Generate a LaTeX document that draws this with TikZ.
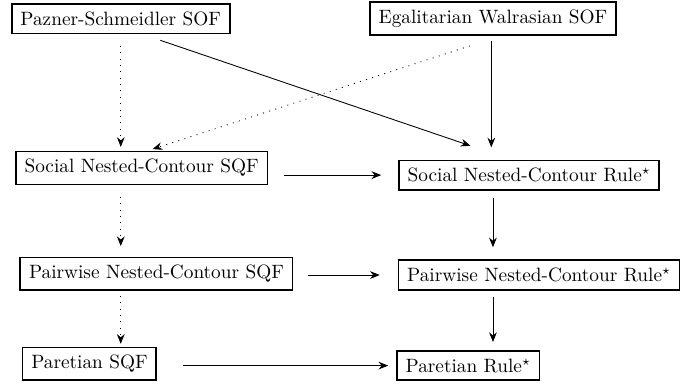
\documentclass[tikz,border=0pt]{standalone}
\usetikzlibrary{arrows.meta}
\tikzset{
  box/.style={draw, line width=0.9pt, inner xsep=4.5pt, inner ysep=4pt},
  imp/.style={-{Stealth[length=5pt,width=4pt]}, line width=0.45pt, shorten <=4pt, shorten >=6pt},
  weak/.style={imp, dash pattern=on 0.5pt off 2.8pt},
}
\begin{document}
\begin{tikzpicture}
\useasboundingbox (0,0) rectangle (12.46,6.98);
% top row: the two SOFs
\node[box] (ps) at (2.20,6.64) {Pazner-Schmeidler SOF};
\node[box] (ew) at (8.98,6.64) {Egalitarian Walrasian SOF};

% left column: SQFs
\node[box] (snsqf) at (2.58,3.92) {Social Nested-Contour SQF};
\node[box] (pwsqf) at (2.85,1.99) {Pairwise Nested-Contour SQF};
\node[box] (psqf) at (1.63,0.35) {Paretian SQF};

% right column: rules
\node[box] (snrule) at (9.64,3.79) {Social Nested-Contour Rule$^\star$};
\node[box] (pwrule) at (9.82,1.97) {Pairwise Nested-Contour Rule$^\star$};
\node[box] (prule) at (8.53,0.32) {Paretian Rule$^\star$};

% dotted implications
\draw[weak, shorten <=6pt, shorten >=2pt] (ps.south) -- (ps.south |- snsqf.north);
\draw[weak, shorten <=6pt, shorten >=5.5pt] (ps.south |- snsqf.south) -- (ps.south |- pwsqf.north);
\draw[weak, shorten <=2.5pt, shorten >=1.5pt] (ps.south |- pwsqf.south) -- (ps.south |- psqf.north);
\draw[weak, shorten <=0pt, shorten >=0pt] ([xshift=-0.42cm,yshift=-0.18cm]ew.south) -- ([xshift=0.2cm,yshift=0.03cm]snsqf.north);

% solid implications
\draw[imp, shorten <=0pt, shorten >=0pt] ([xshift=0.72cm,yshift=-0.11cm]ps.south) -- ([xshift=-1.07cm,yshift=0.25cm]snrule.north);
\draw[imp, shorten <=2.6pt, shorten >=6.3pt] (ew.south -| 8.95,0) -- (snrule.north -| 8.95,0);
\draw[imp, shorten <=3.7pt, shorten >=6.3pt] (snrule.south -| ew.south) -- (pwrule.north -| ew.south);
\draw[imp, shorten <=3.1pt, shorten >=4.2pt] (pwrule.south -| ew.south) -- (prule.north -| ew.south);

% horizontal implications
\draw[imp, shorten <=8.3pt, shorten >=8.8pt] (snsqf.east |- snrule.west) -- (snrule.west);
\draw[imp, shorten <=7.8pt, shorten >=9.3pt] (pwsqf.east |- pwrule.west) -- (pwrule.west);
\draw[imp, shorten <=13.5pt, shorten >=4.1pt] (psqf.east |- prule.west) -- (prule.west);
\end{tikzpicture}
\end{document}
